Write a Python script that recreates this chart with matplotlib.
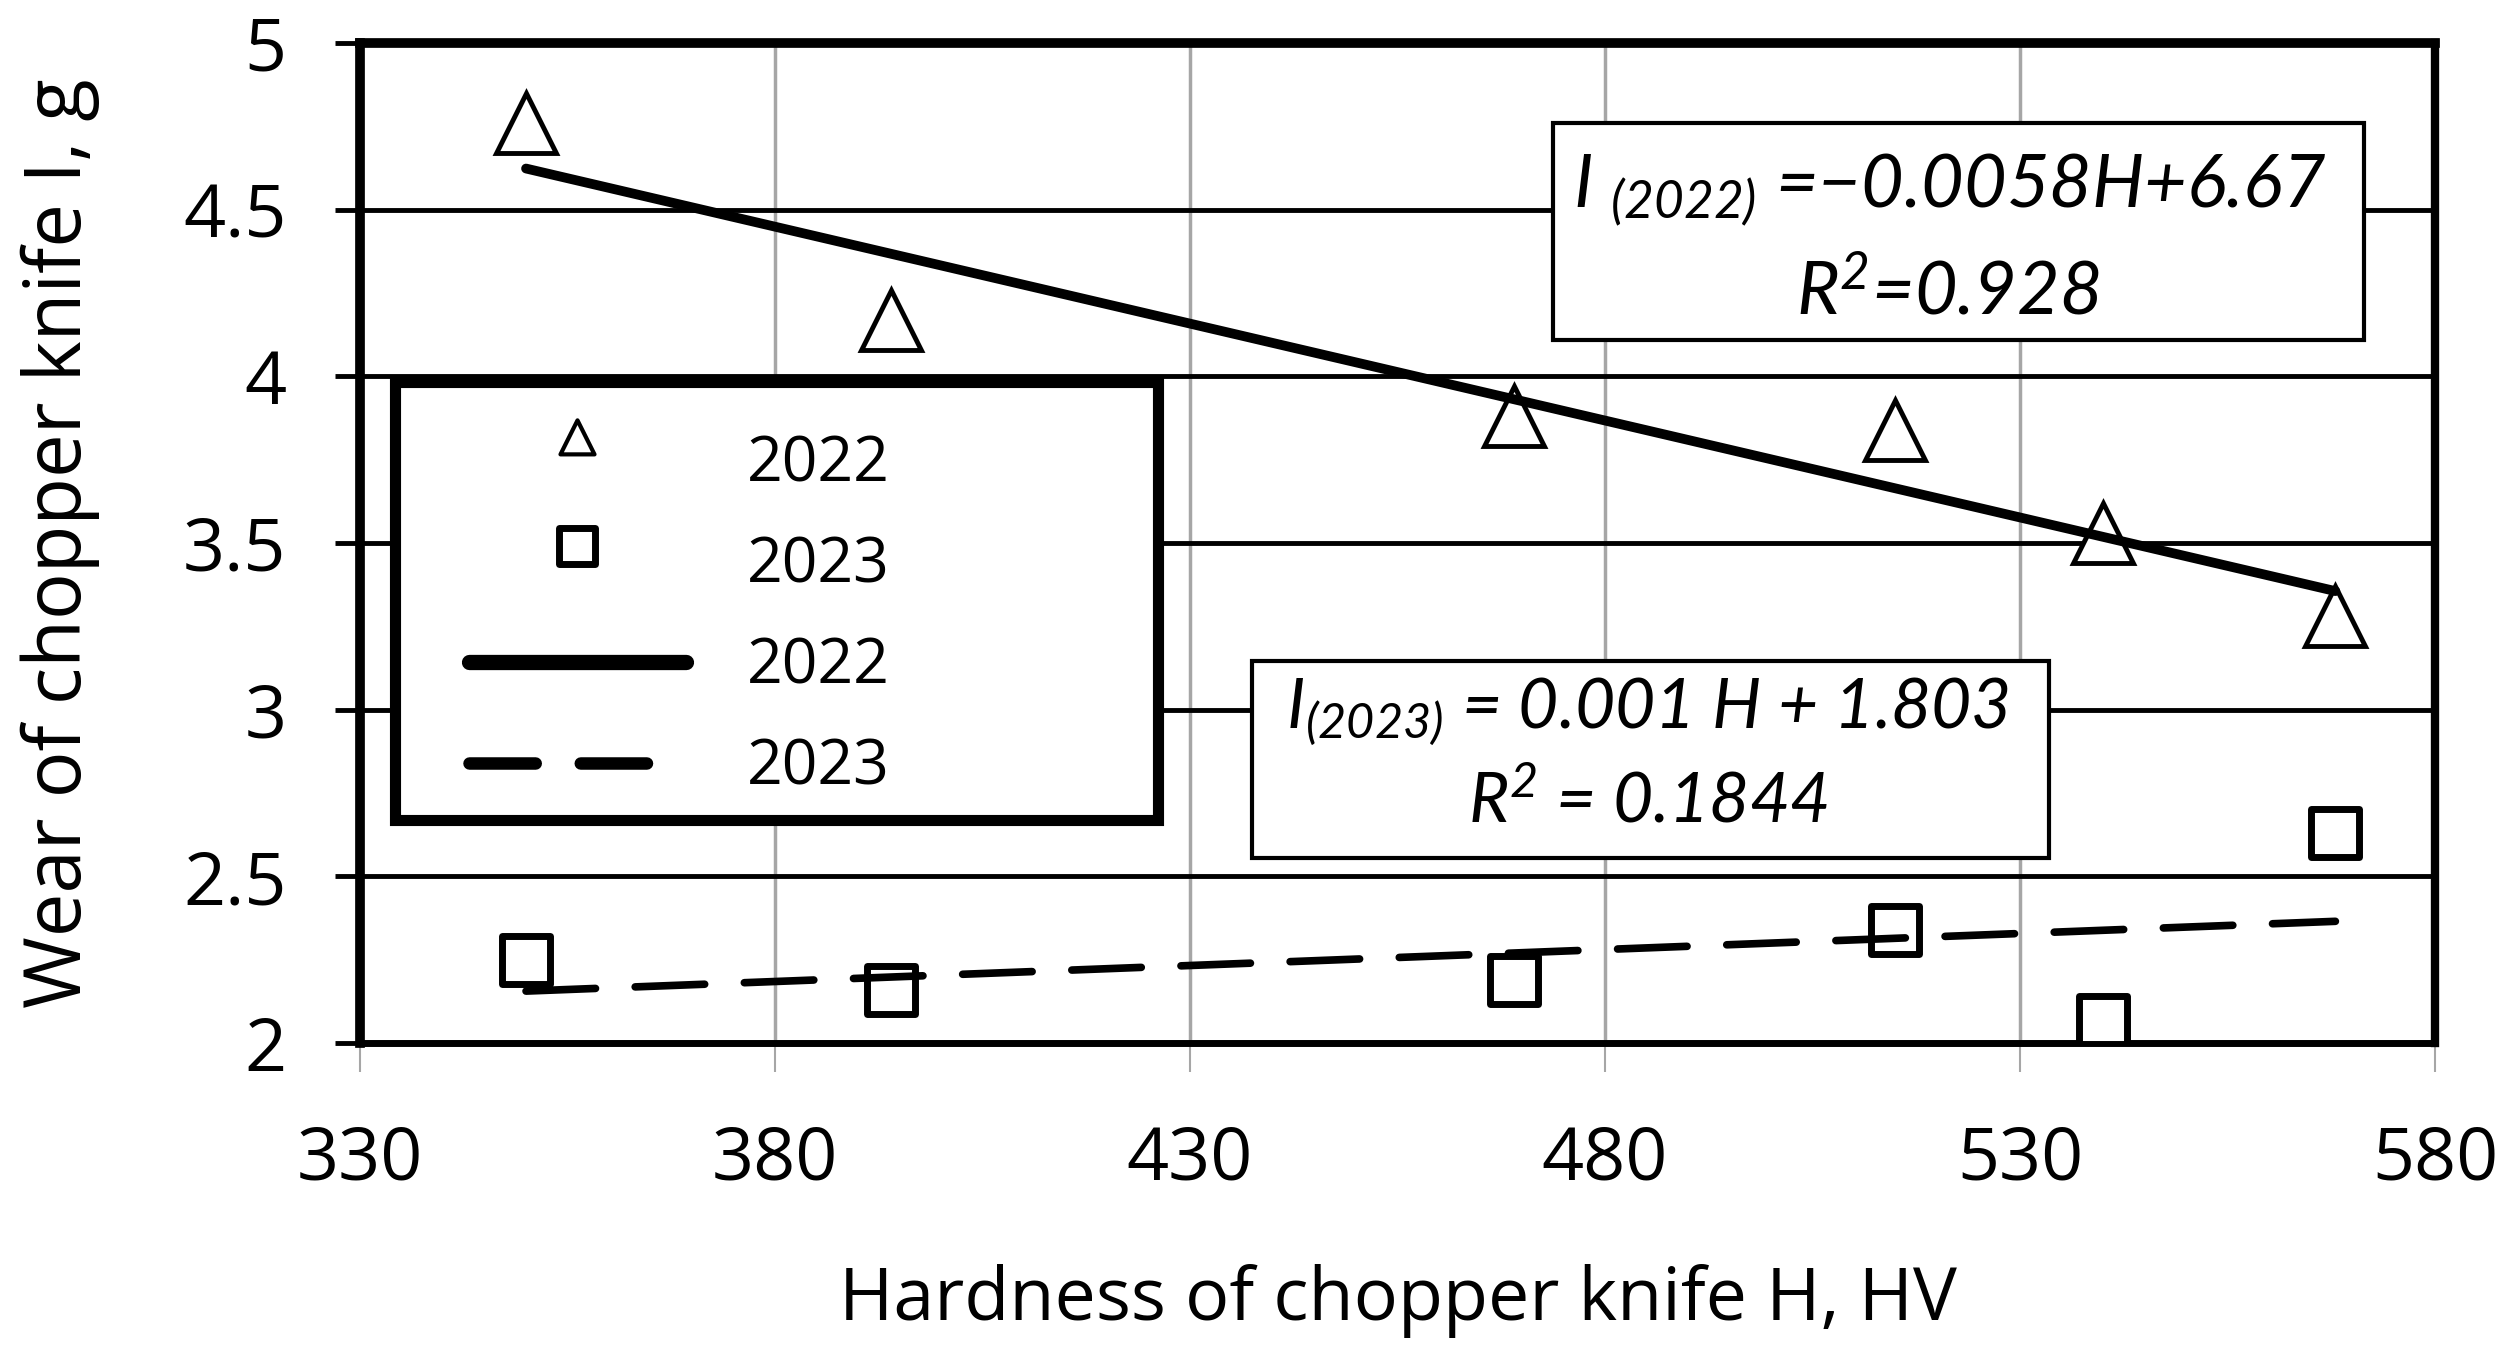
" Chopper knife wear against knife hardness, seasons 2022 and 2023 "

# imports
import matplotlib
matplotlib.use("Agg")
import matplotlib.pyplot as plt
import numpy as np
from matplotlib.lines import Line2D
from matplotlib.markers import MarkerStyle
from matplotlib.patches import Rectangle
from matplotlib.path import Path
from matplotlib.ticker import FuncFormatter

# values
hardness = [350, 394, 469, 515, 540, 568]
wear_2022 = [4.76, 4.17, 3.88, 3.84, 3.53, 3.28]
wear_2023 = [2.25, 2.16, 2.19, 2.34, 2.07, 2.63]

x_ticks = [330, 380, 430, 480, 530, 580]
y_ticks = [2, 2.5, 3, 3.5, 4, 4.5, 5]

eq_2022 = ["$I_{\\ (2022)}$ =\u22120.0058H+6.67", "$R^2$=0.928"]
eq_2023 = ["$I_{(2023)}$ = 0.001 H + 1.803", "$R^2$ = 0.1844"]
legend_labels = ["2022", "2023", "2022", "2023"]

plt.rcParams["font.family"] = ["Open Sans", "DejaVu Sans"]
plt.rcParams["mathtext.fontset"] = "custom"
plt.rcParams["mathtext.default"] = "regular"


def shifted_marker(verts, dy):
    """Closed marker path moved up by dy (in marker size units)."""
    pts = [(x, y + dy) for x, y in verts]
    return MarkerStyle(Path(pts + [pts[0]], closed=True), joinstyle="round")


def plot_wear(save="out.png"):
    fig = plt.figure(figsize=(25.16, 13.48), dpi=100)
    ax = fig.add_axes([0.1431, 0.2263, 0.8247, 0.7418])

    # grid and frame
    ax.set_axisbelow(True)
    ax.yaxis.grid(True, color="black", linewidth=3.5)
    ax.xaxis.grid(True, color="#a6a6a6", linewidth=2.5)
    for side, lw in [("left", 7), ("top", 7), ("right", 6), ("bottom", 5)]:
        ax.spines[side].set_linewidth(lw)
        ax.spines[side].set_color("black")

    # measured points
    ax.plot(hardness, wear_2022, linestyle="none", marker="^", markersize=43,
            markerfacecolor="white", markeredgecolor="black",
            markeredgewidth=3.5, zorder=4)
    ax.plot(hardness, wear_2023, linestyle="none",
            marker=MarkerStyle("s", joinstyle="round"), markersize=35,
            markerfacecolor="white", markeredgecolor="black",
            markeredgewidth=5, zorder=4)

    # linear trend lines
    h_line = np.array([min(hardness), max(hardness)])
    fit_2022 = np.polyfit(hardness, wear_2022, 1)
    fit_2023 = np.polyfit(hardness, wear_2023, 1)
    ax.plot(h_line, np.polyval(fit_2022, h_line), color="black", linewidth=7,
            solid_capstyle="round", zorder=5)
    ax.plot(h_line, np.polyval(fit_2023, h_line), color="black", linewidth=5.5,
            dashes=(9.1, 5.2), dash_capstyle="round", zorder=5)

    # equation boxes
    for (x0, y0, x1, y1) in [(0.575, 0.703, 0.966, 0.92),
                             (0.430, 0.185, 0.814, 0.382)]:
        ax.add_patch(Rectangle((x0, y0), x1 - x0, y1 - y0,
                               transform=ax.transAxes, facecolor="white",
                               edgecolor="black", linewidth=3, zorder=6))
    eq_font = dict(family=["Lato", "DejaVu Sans"], style="italic",
                   ha="center", va="baseline", transform=ax.transAxes, zorder=7)
    ax.text(0.766, 0.836, eq_2022[0], fontsize=53, **eq_font)
    ax.text(0.7653, 0.728, eq_2022[1], fontsize=53, **eq_font)
    ax.text(0.6207, 0.315, eq_2023[0], fontsize=50, **eq_font)
    ax.text(0.6207, 0.220, eq_2023[1], fontsize=50, **eq_font)

    # legend: frame drawn separately, entries placed inside it
    ax.add_patch(Rectangle((0.0169, 0.223), 0.3677, 0.438,
                           transform=ax.transAxes, facecolor="white",
                           edgecolor="black", linewidth=8, zorder=8))
    tri = shifted_marker([(-0.5, -0.5), (0.5, -0.5), (0.0, 0.5)], 0.68)
    sq = shifted_marker([(-0.5, -0.5), (0.5, -0.5), (0.5, 0.5), (-0.5, 0.5)],
                        0.42)
    handles = [
        Line2D([], [], linestyle="none", marker=tri, markersize=57.8,
               markerfacecolor="white", markeredgecolor="black",
               markeredgewidth=3),
        Line2D([], [], linestyle="none", marker=sq, markersize=47.7,
               markerfacecolor="white", markeredgecolor="black",
               markeredgewidth=5),
        Line2D([], [], color="black", linewidth=11, solid_capstyle="round"),
        Line2D([], [], color="black", linewidth=9, dashes=(5.3, 3.6),
               dash_capstyle="round"),
    ]
    leg = ax.legend(handles, legend_labels, loc="upper left",
                    bbox_to_anchor=(0.0525, 0.6085), frameon=False,
                    fontsize=45, borderpad=0, borderaxespad=0,
                    handlelength=3.47, handletextpad=0.98, labelspacing=0.616,
                    numpoints=1)
    leg.set_zorder(9)

    # axes and labels
    ax.set_xlim(330, 580)
    ax.set_ylim(2, 5)
    ax.set_xticks(x_ticks)
    ax.set_yticks(y_ticks)
    ax.yaxis.set_major_formatter(FuncFormatter(lambda v, _: f"{v:g}"))
    ax.tick_params(axis="y", direction="out", length=18, width=3.5,
                   color="black", pad=35, labelsize=53)
    ax.tick_params(axis="x", direction="out", length=21, width=1.5,
                   color="#a6a6a6", pad=37, labelsize=53)
    ax.set_xlabel("Hardness of chopper knife H, HV", fontsize=53)
    ax.xaxis.set_label_coords(0.5, -0.258)
    ax.xaxis.label.set_verticalalignment("center")
    ax.set_ylabel("Wear of chopper knife I, g", fontsize=56)
    ax.yaxis.set_label_coords(-0.1446, 0.5)
    ax.yaxis.label.set_verticalalignment("center")

    fig.savefig(save, dpi=100)
    plt.close(fig)


plot_wear()
